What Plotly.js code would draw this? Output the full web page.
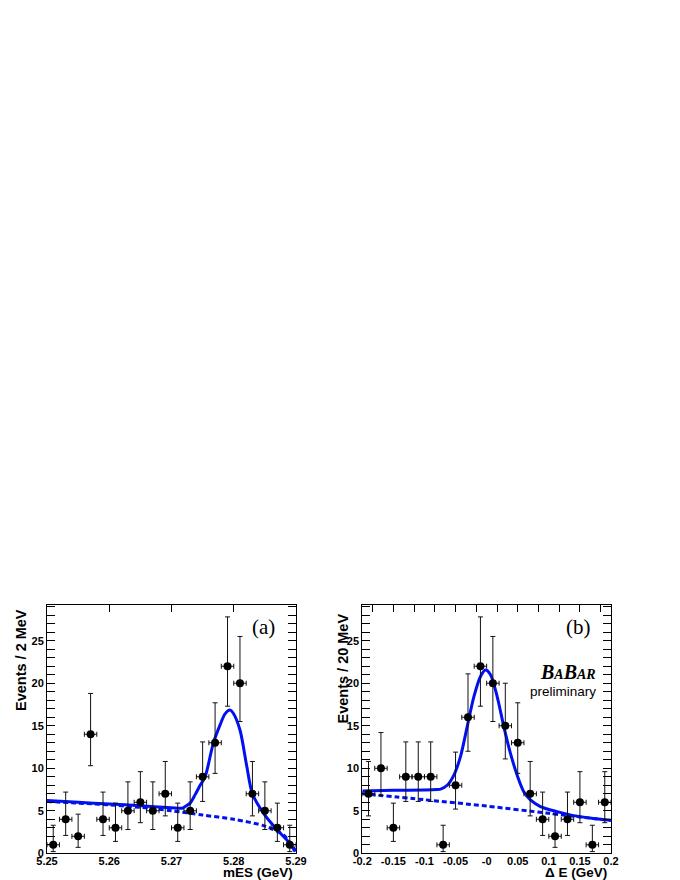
<!DOCTYPE html>
<html>
<head>
<meta charset="utf-8">
<script src="https://cdn.plot.ly/plotly-3.0.1.min.js"></script>
<style>
  html, body { margin: 0; padding: 0; background: #fff; }
  #chart { width: 680px; height: 880px; }
</style>
</head>
<body>
<div id="chart"></div>
<script>
// ---------- Panel (a): mES ----------
const mesX = [5.251, 5.253, 5.255, 5.257, 5.259, 5.261, 5.263, 5.265, 5.267, 5.269,
              5.271, 5.273, 5.275, 5.277, 5.279, 5.281, 5.283, 5.285, 5.287, 5.289];
const mesY = [1, 4, 2, 14, 4, 3, 5, 6, 5, 7, 3, 5, 9, 13, 22, 20, 7, 5, 3, 1];
const mesErrUp = [2.3, 3.2, 2.6, 4.8, 3.2, 2.9, 3.4, 3.6, 3.4, 3.8, 2.9, 3.4, 4.1, 4.7, 5.8, 5.5, 3.8, 3.4, 2.9, 2.3];
const mesErrDn = [0.8, 1.9, 1.3, 3.7, 1.9, 1.6, 2.2, 2.4, 2.2, 2.6, 1.6, 2.2, 2.9, 3.6, 4.7, 4.5, 2.6, 2.2, 1.6, 0.8];
const mesHalfBin = 0.001;

const mesFitX = [5.250, 5.255, 5.260, 5.265, 5.270, 5.2717, 5.2722, 5.273, 5.2738, 5.2746, 5.2754,
                 5.2767, 5.2778, 5.2786, 5.2794, 5.2799, 5.281, 5.2821, 5.283, 5.285, 5.287, 5.289, 5.2898];
const mesFitY = [6.2, 6.0, 5.8, 5.6, 5.35, 5.3, 5.5, 5.9, 6.9, 8.0, 9.0,
                 12.9, 15.1, 16.4, 16.85, 16.5, 14.5, 10.2, 7.0, 4.5, 2.74, 1.18, 0.25];
const mesBkgX = [5.250, 5.255, 5.260, 5.265, 5.270, 5.275, 5.280, 5.285, 5.288, 5.2895, 5.290];
const mesBkgY = [6.1, 5.9, 5.7, 5.4, 5.0, 4.5, 4.0, 3.2, 2.15, 0.8, 0.2];

const mesTickVals = [5.25, 5.26, 5.27, 5.28, 5.29];
const mesTickText = ['5.25', '5.26', '5.27', '5.28', '5.29'];
const mesTopTicks = [5.26, 5.27, 5.28];

// ---------- Panel (b): Delta E ----------
const deX = [-0.19, -0.17, -0.15, -0.13, -0.11, -0.09, -0.07, -0.05, -0.03, -0.01,
             0.01, 0.03, 0.05, 0.07, 0.09, 0.11, 0.13, 0.15, 0.17, 0.19];
const deY = [7, 10, 3, 9, 9, 9, 1, 8, 16, 22, 20, 15, 13, 7, 4, 2, 4, 6, 1, 6];
const deErrUp = [3.8, 4.2, 2.9, 4.1, 4.1, 4.1, 2.3, 3.9, 5.1, 5.8, 5.5, 5.0, 4.7, 3.8, 3.2, 2.6, 3.2, 3.6, 2.3, 3.6];
const deErrDn = [2.6, 3.2, 1.6, 2.9, 2.9, 2.9, 0.8, 2.8, 4.0, 4.7, 4.5, 3.9, 3.6, 2.6, 1.9, 1.3, 1.9, 2.4, 0.8, 2.4];
const deHalfBin = 0.01;

const deFitX = [-0.200, -0.150, -0.100, -0.080, -0.074, -0.0635, -0.0527, -0.042, -0.0313, -0.0206, -0.0099,
                -0.0019, 0.0062, 0.017, 0.0276, 0.0383, 0.049, 0.0597, 0.0704, 0.0865, 0.1133, 0.140, 0.172, 0.200];
const deFitY = [7.33, 7.4, 7.45, 7.5, 7.55, 8.0, 9.2, 11.4, 14.9, 18.4, 20.8,
                21.55, 21.0, 18.4, 14.9, 11.75, 9.2, 7.25, 6.27, 5.5, 4.9, 4.43, 4.1, 3.9];
const deBkgX = [-0.2, -0.1, 0.0, 0.1, 0.2];
const deBkgY = [7.0, 6.3, 5.55, 4.7, 3.85];

const deTickVals = [-0.2, -0.15, -0.1, -0.05, 0, 0.05, 0.1, 0.15, 0.2];
const deTickText = ['-0.2', '-0.15', '-0.1', '-0.05', '-0', '0.05', '0.1', '0.15', '0.2'];
const deTopTicks = [-0.1833, -0.15, -0.1167, -0.0833, -0.05, -0.0167, 0.0167, 0.05, 0.0833, 0.1167, 0.15, 0.1833];

const yTickVals = [0, 5, 10, 15, 20, 25];

// ---------- styling ----------
const W = 680, H = 880;
const px = v => v / W;
const py = v => 1 - v / H;
const BLUE = '#0010f0';
const FONT = 'Liberation Sans, Arial, Helvetica, sans-serif';
const SERIF = 'Liberation Serif, Times New Roman, serif';

function points(x, y, up, dn, half, xa, ya) {
  return {
    type: 'scatter', mode: 'markers', x: x, y: y, xaxis: xa, yaxis: ya,
    marker: { color: 'black', size: 8, symbol: 'circle' },
    error_y: { type: 'data', symmetric: false, array: up, arrayminus: dn, color: '#111', thickness: 1, width: 2.5 },
    error_x: { type: 'constant', value: half, color: '#111', thickness: 1, width: 2.5 },
    showlegend: false, hoverinfo: 'skip', cliponaxis: false
  };
}
function curve(x, y, xa, ya, dash) {
  return {
    type: 'scatter', mode: 'lines', x: x, y: y, xaxis: xa, yaxis: ya,
    line: { color: BLUE, width: 3, shape: 'spline', smoothing: 0.8, dash: dash ? '5px,3px' : 'solid' },
    showlegend: false, hoverinfo: 'skip'
  };
}

const traces = [
  curve(mesBkgX, mesBkgY, 'x', 'y', true),
  curve(mesFitX, mesFitY, 'x', 'y', false),
  points(mesX, mesY, mesErrUp, mesErrDn, mesHalfBin, 'x', 'y'),
  curve(deBkgX, deBkgY, 'x2', 'y2', true),
  curve(deFitX, deFitY, 'x2', 'y2', false),
  points(deX, deY, deErrUp, deErrDn, deHalfBin, 'x2', 'y2'),
  { type: 'scatter', x: [], y: [], xaxis: 'x3', yaxis: 'y', showlegend: false },
  { type: 'scatter', x: [], y: [], xaxis: 'x4', yaxis: 'y2', showlegend: false }
];

const yDom = [1 - 853.3 / H, 1 - 605 / H];
const tickFont = { family: FONT, size: 11, color: 'black', weight: 'bold' };

function xAxis(dom, range, vals, text, anchor) {
  return {
    domain: dom, range: range, anchor: anchor,
    showline: true, linecolor: 'black', linewidth: 1, mirror: true,
    ticks: '', tickvals: vals, ticktext: text, tickfont: tickFont,
    ticklabelstandoff: -3,
    showgrid: false, zeroline: false, fixedrange: true
  };
}
function topAxis(range, vals, over, anchor) {
  return {
    overlaying: over, anchor: anchor, side: 'top', range: range,
    ticks: 'inside', ticklen: 7, tickcolor: 'black', tickwidth: 1,
    tickvals: vals, showticklabels: false, showline: false,
    showgrid: false, zeroline: false, fixedrange: true
  };
}
function yAxis(anchor) {
  return {
    domain: yDom, range: [0, 29.2], anchor: anchor,
    showline: true, linecolor: 'black', linewidth: 1, mirror: 'allticks',
    ticks: 'inside', ticklen: 8, tickcolor: 'black', tickwidth: 1,
    tickvals: yTickVals, tickfont: tickFont,
    minor: { ticks: 'inside', ticklen: 4, dtick: 1, tickcolor: 'black', tickwidth: 1 },
    showgrid: false, zeroline: false, fixedrange: true
  };
}

const layout = {
  width: W, height: H,
  margin: { l: 0, r: 0, t: 0, b: 0 },
  paper_bgcolor: 'white', plot_bgcolor: 'white',
  showlegend: false,
  xaxis: xAxis([47 / W, 296 / W], [5.25, 5.29], mesTickVals, mesTickText, 'y'),
  xaxis2: xAxis([362.3 / W, 611 / W], [-0.2, 0.2], deTickVals, deTickText, 'y2'),
  xaxis3: topAxis([5.25, 5.29], mesTopTicks, 'x', 'y'),
  xaxis4: topAxis([-0.2, 0.2], deTopTicks, 'x2', 'y2'),
  yaxis: yAxis('x'),
  yaxis2: yAxis('x2'),
  annotations: [
    { text: '<b>Events / 2 MeV</b>', xref: 'paper', yref: 'paper', x: px(21), y: py(660),
      xanchor: 'center', yanchor: 'middle', textangle: -90, showarrow: false, borderpad: 0,
      font: { family: FONT, size: 14.5, color: 'black' } },
    { text: '<b>Events / 20 MeV</b>', xref: 'paper', yref: 'paper', x: px(342), y: py(668.5),
      xanchor: 'center', yanchor: 'middle', textangle: -90, showarrow: false, borderpad: 0,
      font: { family: FONT, size: 14.5, color: 'black' } },
    { text: '<b>mES (GeV)</b>', xref: 'paper', yref: 'paper', x: px(294), y: py(872.5),
      xanchor: 'right', yanchor: 'middle', showarrow: false, borderpad: 0,
      font: { family: FONT, size: 13.5, color: 'black' } },
    { text: '<b>\u0394 E (GeV)</b>', xref: 'paper', yref: 'paper', x: px(607.5), y: py(872.5),
      xanchor: 'right', yanchor: 'middle', showarrow: false, borderpad: 0,
      font: { family: FONT, size: 13.5, color: 'black' } },
    { text: '(a)', xref: 'paper', yref: 'paper', x: px(263.5), y: py(627),
      xanchor: 'center', yanchor: 'middle', showarrow: false,
      font: { family: SERIF, size: 21, color: 'black' } },
    { text: '(b)', xref: 'paper', yref: 'paper', x: px(578.5), y: py(627),
      xanchor: 'center', yanchor: 'middle', showarrow: false,
      font: { family: SERIF, size: 21, color: 'black' } },
    { text: '<b><i>B<span style="font-size:14px">A</span>B<span style="font-size:14px">AR</span></i></b>',
      xref: 'paper', yref: 'paper', x: px(597.5), y: py(672),
      xanchor: 'right', yanchor: 'middle', showarrow: false,
      font: { family: SERIF, size: 20, color: 'black' } },
    { text: 'preliminary', xref: 'paper', yref: 'paper', x: px(597.5), y: py(691.5),
      xanchor: 'right', yanchor: 'middle', showarrow: false,
      font: { family: FONT, size: 13.5, color: 'black' } }
  ]
};

Plotly.newPlot('chart', traces, layout, { staticPlot: true, displayModeBar: false });
</script>
</body>
</html>
